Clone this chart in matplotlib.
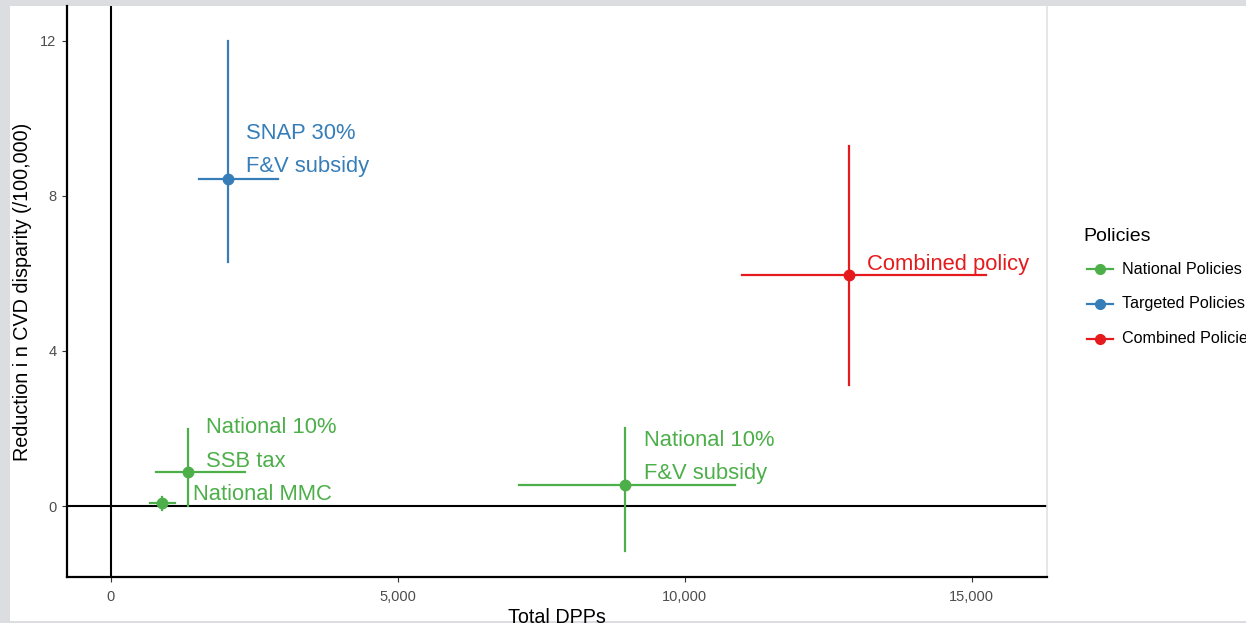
import matplotlib.pyplot as plt
from matplotlib.lines import Line2D
from matplotlib.patches import Rectangle
from matplotlib.ticker import FuncFormatter

plt.rcParams['font.family'] = ['Liberation Sans', 'DejaVu Sans']

# policy estimates with uncertainty ranges
labels = ["National 10%\nSSB tax", "National MMC", "National 10%\nF&V subsidy",
          "SNAP 30%\nF&V subsidy", "Combined policy"]
groups = ["National Policies", "National Policies", "National Policies",
          "Targeted Policies", "Combined Policies"]
dpps = [1340, 890, 8960, 2040, 12860]
dpps_lo = [790, 680, 7110, 1530, 10990]
dpps_hi = [2330, 1120, 10870, 2910, 15240]
reduction = [0.88, 0.08, 0.54, 8.43, 5.95]
reduction_lo = [0.0, -0.1, -1.16, 6.29, 3.12]
reduction_hi = [1.98, 0.23, 2.01, 12.0, 9.28]

group_names = ["National Policies", "Targeted Policies", "Combined Policies"]
group_colors = {"National Policies": "#4daf4a",
                "Targeted Policies": "#377eb8",
                "Combined Policies": "#e41a1c"}

# label offsets from each point, in pixels
label_offsets = [(18, 27), (31, 8), (19, 28), (18, 29), (18, 11)]

W, H = 1246, 623
fig = plt.figure(figsize=(W / 100, H / 100), dpi=100, facecolor="#dcdde0")
fig.patches.append(Rectangle((10 / W, 2 / H), 1, 615 / H,
                             transform=fig.transFigure, facecolor="white",
                             edgecolor="none", zorder=-10))

ax = fig.add_axes([67 / W, 46 / H, 980 / W, 571 / H])
ax.set_facecolor("white")

ax.axhline(0, color="black", lw=1.5, zorder=1)
ax.axvline(0, color="black", lw=1.5, zorder=1)

for i in range(len(labels)):
    c = group_colors[groups[i]]
    ax.plot([dpps_lo[i], dpps_hi[i]], [reduction[i], reduction[i]], color=c, lw=1.6, zorder=2)
    ax.plot([dpps[i], dpps[i]], [reduction_lo[i], reduction_hi[i]], color=c, lw=1.6, zorder=2)
    ax.plot(dpps[i], reduction[i], "o", color=c, ms=7.5, zorder=3)
    ax.annotate(labels[i], (dpps[i], reduction[i]), xytext=label_offsets[i],
                textcoords="offset pixels", color=c, fontsize=15.8,
                ha="left", va="center", linespacing=1.8)

ax.set_xlim(-766, 16310)
ax.set_ylim(-1.83, 12.89)
ax.set_xticks([0, 5000, 10000, 15000])
ax.set_yticks([0, 4, 8, 12])
ax.xaxis.set_major_formatter(FuncFormatter(lambda v, p: f"{int(v):,}"))
ax.tick_params(labelsize=10.5, labelcolor="#4d4d4d", color="#333333",
               length=3.5, width=0.8, pad=4)
ax.tick_params(axis="x", pad=6)

ax.spines["top"].set_visible(False)
ax.spines["right"].set_color("#e2e2e2")
ax.spines["right"].set_linewidth(1.2)
ax.spines["left"].set_linewidth(1.6)
ax.spines["bottom"].set_linewidth(1.6)

ax.set_xlabel("Total DPPs", fontsize=14.2, labelpad=3)
ax.set_ylabel("Reduction i n CVD disparity (/100,000)", fontsize=14.2, labelpad=6)

# legend laid out by hand, in figure pixels from the top-left corner
def fx(px):
    return px / W

def fy(py):
    return 1 - py / H

fig.text(fx(1083), fy(236), "Policies", fontsize=14, ha="left", va="center")
for j, g in enumerate(group_names):
    y = 269 + 35 * j
    c = group_colors[g]
    fig.add_artist(Line2D([fx(1087), fx(1113)], [fy(y), fy(y)], color=c, lw=1.6,
                          transform=fig.transFigure))
    fig.add_artist(Line2D([fx(1100)], [fy(y)], color=c, marker="o", ms=7,
                          transform=fig.transFigure))
    fig.text(fx(1122), fy(y), g, fontsize=11.6, ha="left", va="center")

fig.savefig("out.png", dpi=100, facecolor=fig.get_facecolor())
